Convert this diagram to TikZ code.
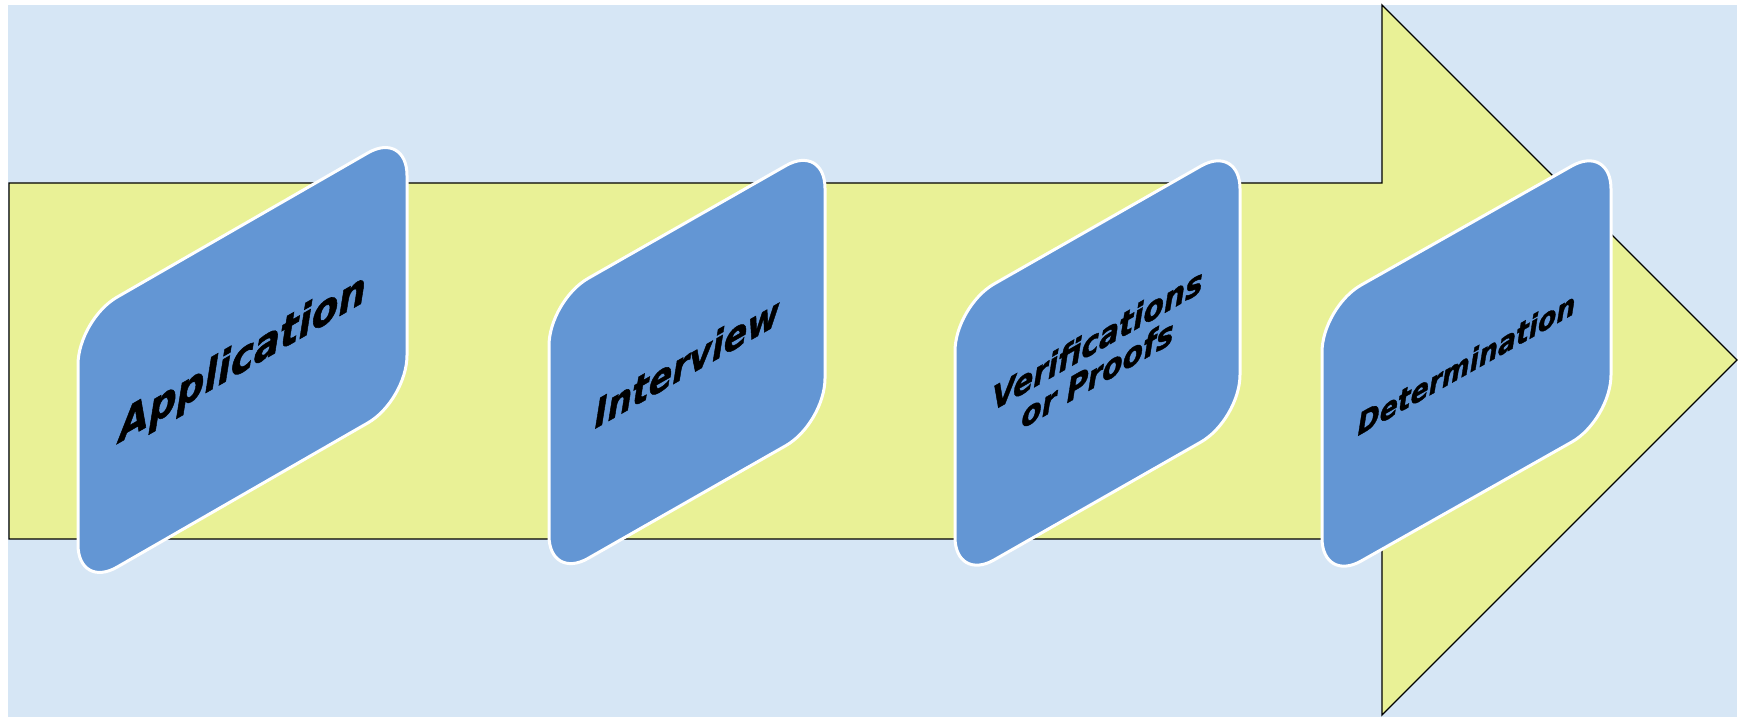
\documentclass[tikz,border=0pt]{standalone}
\usepackage{fontspec}
\newfontfamily\cardfont{DejaVu Sans}[FakeStretch=0.9, FakeBold=1.2]
\definecolor{bgblue}{RGB}{214,230,245}
\definecolor{arrowyellow}{RGB}{233,241,150}
\definecolor{cardblue}{RGB}{99,150,212}
\begin{document}
\begin{tikzpicture}[x=1pt,y=1pt,
  stepcard/.style={draw=white, line width=3pt, fill=cardblue, rounded corners=45pt,
    transform shape, inner sep=0pt, align=center, text=black}]
\useasboundingbox (0,0) rectangle (1743,717);
\fill[white] (0,0) rectangle (1743,717);
\fill[bgblue] (8,0) rectangle (1737,712);
\draw[fill=arrowyellow, line width=1.3pt, line join=miter]
  (9,534) -- (1382,534) -- (1382,712) -- (1737,357) -- (1382,2) -- (1382,178) -- (9,178) -- cycle;
\begin{scope}[cm={1,0.575,0,1,(242.5,357)}]
  \node[stepcard, minimum width=329pt, minimum height=270pt,
    font=\cardfont\bfseries\itshape\fontsize{43}{48}\selectfont] (app) at (0,0) {Application};
\end{scope}
\begin{scope}[cm={1,0.57,0,1,(687,355)}]
  \node[stepcard, minimum width=276pt, minimum height=280pt,
    font=\cardfont\bfseries\itshape\fontsize{38.5}{43}\selectfont] (int) at (0,0) {Interview};
\end{scope}
\begin{scope}[cm={1,0.57,0,1,(1097.5,354)}]
  \node[stepcard, minimum width=285pt, minimum height=276pt,
    font=\cardfont\bfseries\itshape\fontsize{33}{40}\selectfont] (ver) at (0,0)
    {\raisebox{14pt}{\shortstack{Verifications\\[6pt]or Proofs}}};
\end{scope}
\begin{scope}[cm={1,0.565,0,1,(1466.5,353.5)}]
  \node[stepcard, minimum width=289pt, minimum height=276pt,
    font=\cardfont\bfseries\itshape\fontsize{29.7}{34}\selectfont] (det) at (0,0) {Determination};
\end{scope}
\end{tikzpicture}
\end{document}
